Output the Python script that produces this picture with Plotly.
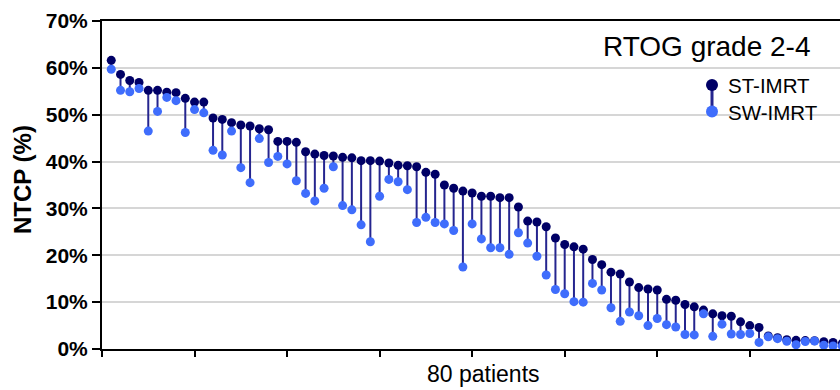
import plotly.graph_objects as go

# ---- data ----
patients = list(range(1, 81))
st_imrt = [61.6, 58.6, 57.3, 56.9, 55.2, 55.2, 54.8, 54.7, 53.5, 52.7, 52.7, 49.3, 49.0,
           48.3, 47.8, 47.6, 47.0, 46.8, 44.3, 44.3, 44.1, 42.1, 41.6, 41.3, 41.2, 40.9,
           40.8, 40.2, 40.2, 40.1, 39.7, 39.2, 39.1, 38.9, 37.7, 37.3, 35.0, 34.3, 33.7,
           33.3, 32.6, 32.6, 32.3, 32.3, 30.3, 27.3, 27.1, 26.1, 23.7, 22.3, 21.8, 21.3,
           19.1, 18.0, 16.4, 16.0, 14.3, 13.1, 12.8, 12.6, 10.6, 10.4, 9.5, 9.0, 8.3,
           7.5, 7.1, 7.0, 5.8, 5.0, 4.6, 2.8, 2.4, 2.0, 1.85, 1.8, 1.75, 1.55, 1.4, 1.2]
sw_imrt = [59.7, 55.2, 54.9, 55.6, 46.5, 50.7, 53.7, 53.0, 46.2, 51.1, 50.4, 42.4, 41.4,
           46.5, 38.7, 35.5, 44.9, 39.8, 41.1, 39.5, 35.9, 33.2, 31.6, 34.3, 38.9, 30.6,
           29.7, 26.5, 22.9, 32.6, 36.2, 35.7, 34.0, 27.0, 28.1, 27.0, 26.7, 25.3, 17.5,
           26.7, 23.5, 21.6, 21.6, 20.2, 24.8, 22.6, 19.8, 15.8, 12.7, 11.8, 10.1, 10.0,
           14.0, 12.6, 8.8, 5.9, 7.9, 7.1, 5.0, 6.5, 5.2, 4.7, 3.1, 3.0, 7.5,
           2.7, 5.3, 3.2, 3.1, 3.3, 1.4, 2.6, 2.2, 1.65, 0.9, 1.6, 1.7, 0.8, 0.65, 0.6]
y_ticks = [0, 10, 20, 30, 40, 50, 60, 70]
y_tick_labels = ["0%", "10%", "20%", "30%", "40%", "50%", "60%", "70%"]
x_ticks = [0, 10, 20, 30, 40, 50, 60, 70, 80]
series_names = ["ST-IMRT", "SW-IMRT"]

ST_COLOR = "#000066"
SW_COLOR = "#3f6dfc"
STEM_COLOR = "#25258f"
FONT = "Liberation Sans, Arial, sans-serif"

W, H = 840, 390
ML, MR, MT, MB = 102, 0, 21, 41
PW, PH = W - ML - MR, H - MT - MB


def px(xp):
    return (xp - ML) / PW


def py(yp):
    return (H - MB - yp) / PH


# stems
sx, sy = [], []
for p, a, b in zip(patients, st_imrt, sw_imrt):
    sx += [p, p, None]
    sy += [a, b, None]

fig = go.Figure()
fig.add_trace(go.Scatter(x=sx, y=sy, mode="lines",
                         line=dict(color=STEM_COLOR, width=2),
                         hoverinfo="skip", showlegend=False))
fig.add_trace(go.Scatter(x=patients, y=st_imrt, mode="markers", name=series_names[0],
                         marker=dict(color=ST_COLOR, size=9), showlegend=False))
fig.add_trace(go.Scatter(x=patients, y=sw_imrt, mode="markers", name=series_names[1],
                         marker=dict(color=SW_COLOR, size=9), showlegend=False))

# legend drawn by hand
lx = px(712)
y1, y2 = py(85), py(111.5)
shapes = [
    dict(type="line", xref="paper", yref="paper", x0=lx, x1=lx, y0=y1, y1=y2,
         line=dict(color=STEM_COLOR, width=3)),
]
for yy, col in [(y1, ST_COLOR), (y2, SW_COLOR)]:
    shapes.append(dict(type="circle", xref="paper", yref="paper",
                       xsizemode="pixel", ysizemode="pixel",
                       xanchor=lx, yanchor=yy, x0=-6, x1=6, y0=-6, y1=6,
                       fillcolor=col, line=dict(color=col, width=0)))

annotations = [
    dict(text="RTOG grade 2-4", xref="paper", yref="paper", x=px(813), y=py(47),
         xanchor="right", yanchor="middle", showarrow=False,
         font=dict(family=FONT, size=28, color="black")),
    dict(text=series_names[0], xref="paper", yref="paper", x=px(726), y=py(86),
         xanchor="left", yanchor="middle", showarrow=False,
         font=dict(family=FONT, size=20.5, color="black")),
    dict(text=series_names[1], xref="paper", yref="paper", x=px(726), y=py(112),
         xanchor="left", yanchor="middle", showarrow=False,
         font=dict(family=FONT, size=20.5, color="black")),
    dict(text="80 patients", xref="paper", yref="paper", x=px(483), y=py(374),
         xanchor="center", yanchor="middle", showarrow=False,
         font=dict(family=FONT, size=23, color="black")),
    dict(text="NTCP (%)", xref="paper", yref="paper", x=px(22), y=py(180),
         xanchor="center", yanchor="middle", showarrow=False, textangle=-90,
         font=dict(family=FONT, size=24, color="black", weight="bold")),
]

fig.update_layout(
    width=W, height=H,
    margin=dict(l=ML, r=MR, t=MT, b=MB, pad=0, autoexpand=False),
    paper_bgcolor="white", plot_bgcolor="white",
    showlegend=False,
    shapes=shapes, annotations=annotations,
    xaxis=dict(range=[0, 79.75], tickvals=x_ticks, showticklabels=False,
               ticks="outside", ticklen=6, tickwidth=2, tickcolor="black",
               showline=True, linecolor="black", linewidth=2, mirror=True,
               showgrid=False, zeroline=False, automargin=False),
    yaxis=dict(range=[0, 70], tickvals=y_ticks, ticktext=y_tick_labels,
               ticks="outside", ticklen=8, tickwidth=2, tickcolor="black",
               showline=True, linecolor="black", linewidth=2,
               showgrid=True, gridcolor="#d6d6d6", gridwidth=1.5, zeroline=False,
               automargin=False,
               tickfont=dict(family=FONT, size=21, color="black", weight="bold")),
)

fig.write_html("out.html", config={"displayModeBar": False},
               post_script="document.body.style.margin='0px';document.body.style.overflow='hidden';")
